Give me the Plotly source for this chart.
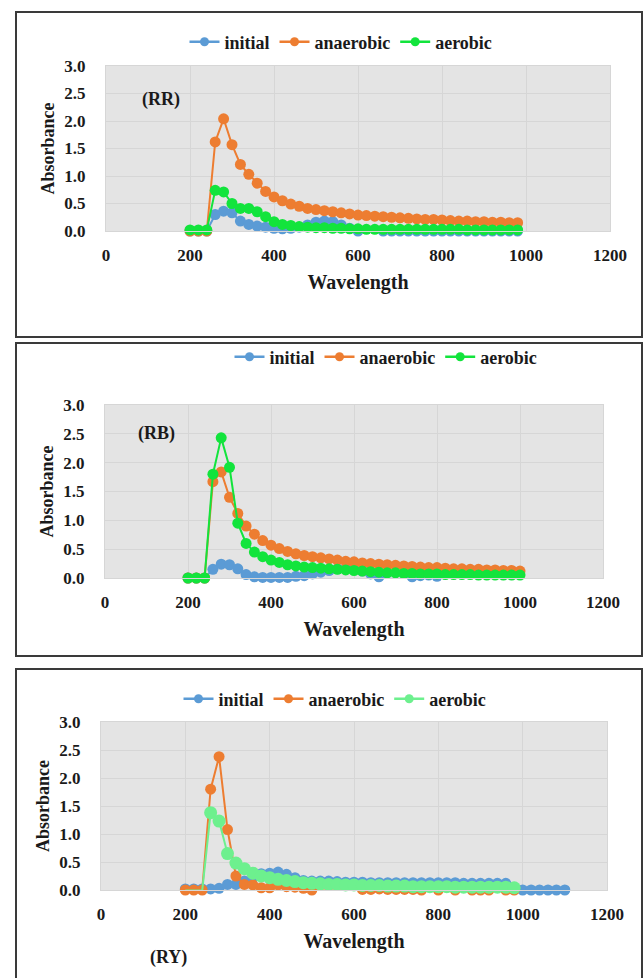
import plotly.graph_objects as go

W, H = 644, 978

# ---------------- data ----------------
wl_980 = list(range(200, 1000, 20))      # 200..980
wl_1000 = list(range(200, 1020, 20))     # 200..1000
wl_1100 = list(range(200, 1120, 20))     # 200..1100

rr_initial = [0.0, 0.0, 0.0, 0.30, 0.36, 0.33, 0.18, 0.12, 0.09, 0.07,
              0.05, 0.04, 0.05, 0.07, 0.11, 0.16, 0.18, 0.17, 0.11, 0.05,
              0.0, -0.02, -0.02, 0.0, 0.0, 0.0, 0.0, 0.0, 0.0, 0.0,
              0.0, 0.0, 0.0, 0.0, 0.0, 0.0, 0.0, 0.0, 0.0, 0.0]
rr_anaerobic = [0.0, 0.0, 0.0, 1.62, 2.04, 1.57, 1.21, 1.03, 0.87, 0.72,
                0.62, 0.55, 0.49, 0.45, 0.41, 0.39, 0.37, 0.35, 0.33, 0.31,
                0.29, 0.28, 0.27, 0.26, 0.25, 0.24, 0.23, 0.22, 0.21, 0.21,
                0.20, 0.19, 0.18, 0.18, 0.17, 0.17, 0.16, 0.16, 0.15, 0.15]
rr_aerobic = [0.02, 0.02, 0.02, 0.74, 0.71, 0.50, 0.41, 0.41, 0.35, 0.26,
              0.17, 0.12, 0.10, 0.08, 0.07, 0.06, 0.06, 0.05, 0.05, 0.04,
              0.04, 0.03, 0.03, 0.03, 0.03, 0.03, 0.03, 0.03, 0.03, 0.03,
              0.03, 0.03, 0.03, 0.02, 0.02, 0.02, 0.02, 0.02, 0.02, 0.02]

rb_initial = [0.0, 0.0, 0.0, 0.15, 0.24, 0.23, 0.16, 0.06, 0.02, 0.01,
              0.01, 0.01, 0.01, 0.03, 0.04, 0.07, 0.10, 0.13, 0.16, 0.17,
              0.16, 0.12, 0.07, 0.02, -0.01, -0.02, -0.01, 0.02, 0.04, 0.05,
              0.03, -0.01, -0.02, -0.02, -0.02, -0.02, -0.02, -0.02, -0.02, -0.02]
rb_anaerobic = [0.0, 0.0, 0.0, 1.67, 1.84, 1.40, 1.12, 0.90, 0.76, 0.65,
                0.57, 0.51, 0.46, 0.42, 0.39, 0.37, 0.35, 0.33, 0.31, 0.29,
                0.28, 0.26, 0.25, 0.24, 0.23, 0.22, 0.21, 0.20, 0.19, 0.18,
                0.18, 0.17, 0.16, 0.16, 0.15, 0.15, 0.14, 0.14, 0.13, 0.13, 0.12]
rb_aerobic = [0.0, 0.0, 0.0, 1.80, 2.43, 1.92, 0.95, 0.60, 0.45, 0.37,
              0.31, 0.27, 0.23, 0.21, 0.19, 0.18, 0.17, 0.16, 0.15, 0.14,
              0.13, 0.12, 0.11, 0.10, 0.09, 0.09, 0.08, 0.08, 0.07, 0.07,
              0.07, 0.06, 0.06, 0.06, 0.06, 0.05, 0.05, 0.05, 0.05, 0.05, 0.05]

ry_initial = [0.02, 0.02, 0.02, 0.02, 0.03, 0.10, 0.10, 0.16, 0.22, 0.29,
              0.30, 0.32, 0.28, 0.22, 0.17, 0.16, 0.16, 0.16, 0.15, 0.14,
              0.14, 0.14, 0.13, 0.13, 0.13, 0.13, 0.13, 0.13, 0.13, 0.13,
              0.13, 0.13, 0.13, 0.12, 0.12, 0.12, 0.12, 0.12, 0.12, 0.01,
              0.0, 0.0, 0.0, 0.0, 0.0, 0.0]
ry_anaerobic = [0.0, 0.0, 0.0, 1.80, 2.38, 1.08, 0.25, 0.10, 0.09, 0.04,
                0.04, 0.09, 0.06, 0.05, 0.03, 0.0, -0.01, -0.01, -0.01, -0.01,
                -0.01, 0.01, 0.01, 0.02, 0.01, 0.01, 0.01, 0.01, 0.0, -0.02,
                0.0, -0.02, 0.0, -0.02, 0.0, 0.0, 0.0, -0.02, 0.0, 0.0]
ry_aerobic = [-0.01, -0.01, -0.01, 1.38, 1.23, 0.65, 0.48, 0.38, 0.30, 0.25,
              0.22, 0.19, 0.17, 0.15, 0.13, 0.12, 0.11, 0.10, 0.10, 0.09,
              0.09, 0.08, 0.08, 0.08, 0.07, 0.07, 0.07, 0.06, 0.06, 0.06,
              0.06, 0.06, 0.05, 0.05, 0.05, 0.05, 0.05, 0.05, 0.05, 0.04]

series_names = ["initial", "anaerobic", "aerobic"]
panel_labels = ["(RR)", "(RB)", "(RY)"]
x_ticks = [0, 200, 400, 600, 800, 1000, 1200]
y_ticks = [0.0, 0.5, 1.0, 1.5, 2.0, 2.5, 3.0]

BLUE = "#5b9bd5"
ORANGE = "#ed7d31"
GREEN = "#12e43c"
LGREEN = "#6df08e"

panels = [
    dict(series=[(wl_980, rr_initial), (wl_980, rr_anaerobic), (wl_980, rr_aerobic)],
         colors=[BLUE, ORANGE, GREEN], sizes=[11, 11, 11],
         px=(106, 610), py=(66, 231), legend_y=42, legend_x=341,
         box=(12, 337), label_xy=(140, 87)),
    dict(series=[(wl_980, rb_initial), (wl_1000, rb_anaerobic), (wl_1000, rb_aerobic)],
         colors=[BLUE, ORANGE, GREEN], sizes=[11, 11, 11],
         px=(105, 603), py=(405, 578), legend_y=357, legend_x=386,
         box=(343, 656), label_xy=(136, 433)),
    dict(series=[(wl_1100, ry_initial), (wl_980, ry_anaerobic), (wl_980, ry_aerobic)],
         colors=[BLUE, ORANGE, LGREEN], sizes=[11, 11, 13],
         px=(101, 607), py=(722, 890), legend_y=699, legend_x=335,
         box=(669, 990), label_xy=(148, 970)),
]

FONT = "Liberation Serif"
TXT = "#1a1a1a"

fig = go.Figure()
layout = dict(width=W, height=H, margin=dict(l=0, r=0, t=0, b=0),
              paper_bgcolor="white", plot_bgcolor="#e4e4e4", showlegend=True,
              font=dict(family=FONT, color=TXT))
shapes = []
annotations = []

for i, p in enumerate(panels):
    n = "" if i == 0 else str(i + 1)
    xa, ya = "x" + n, "y" + n
    leg = "legend" + n
    for (xs, ys), name, col, sz in zip(p["series"], series_names, p["colors"], p["sizes"]):
        fig.add_trace(go.Scatter(
            x=xs, y=ys, mode="lines+markers", name=name,
            line=dict(color=col, width=2), marker=dict(color=col, size=sz),
            cliponaxis=False, xaxis=xa, yaxis=ya, legend=leg, showlegend=False))
        # legend entry with smaller marker
        fig.add_trace(go.Scatter(
            x=[None], y=[None], mode="lines+markers", name=name,
            line=dict(color=col, width=2.5), marker=dict(color=col, size=9),
            xaxis=xa, yaxis=ya, legend=leg, showlegend=True))
    x0, x1 = p["px"]
    yt, yb = p["py"]
    layout["xaxis" + n] = dict(
        domain=[x0 / W, x1 / W], anchor=ya, range=[0, 1200], tickvals=x_ticks,
        showgrid=True, gridcolor="#d6d6d6", gridwidth=1, zeroline=False,
        showline=True, linecolor="#d6d6d6", mirror=True,
        ticks="outside", ticklen=0, ticklabelstandoff=9,
        tickfont=dict(family=FONT, size=17, weight="bold", color=TXT),
        title=dict(text="Wavelength", standoff=10,
                   font=dict(family=FONT, size=20, weight="bold", color=TXT)),
        automargin=False, fixedrange=True)
    layout["yaxis" + n] = dict(
        domain=[1 - yb / H, 1 - yt / H], anchor=xa, range=[0, 3], tickvals=y_ticks,
        tickformat=".1f", showgrid=True, gridcolor="#d6d6d6", gridwidth=1,
        zeroline=False, showline=True, linecolor="#d6d6d6", mirror=True,
        ticks="outside", ticklen=0, ticklabelstandoff=16,
        tickfont=dict(family=FONT, size=17, weight="bold", color=TXT),
        title=dict(text="Absorbance", standoff=5,
                   font=dict(family=FONT, size=18, weight="bold", color=TXT)),
        automargin=False, fixedrange=True)
    layout[leg] = dict(
        orientation="h", x=p["legend_x"] / W, xanchor="center",
        y=1 - p["legend_y"] / H, yanchor="middle", bgcolor="rgba(0,0,0,0)",
        font=dict(family=FONT, size=18, weight="bold", color=TXT),
        itemwidth=30, tracegroupgap=0, traceorder="normal")
    shapes.append(dict(type="rect", xref="paper", yref="paper",
                       x0=16 / W, x1=642 / W, y0=1 - p["box"][1] / H, y1=1 - p["box"][0] / H,
                       line=dict(color="#3a3a3a", width=2), fillcolor="rgba(0,0,0,0)"))
    lx, ly = p["label_xy"]
    annotations.append(dict(text=panel_labels[i], x=lx / W, y=1 - ly / H,
                            xref="paper", yref="paper", showarrow=False,
                            font=dict(family=FONT, size=18, weight="bold", color=TXT)))

layout["shapes"] = shapes
layout["annotations"] = annotations
fig.update_layout(**layout)
fig.write_html("out.html", config={"displayModeBar": False})
